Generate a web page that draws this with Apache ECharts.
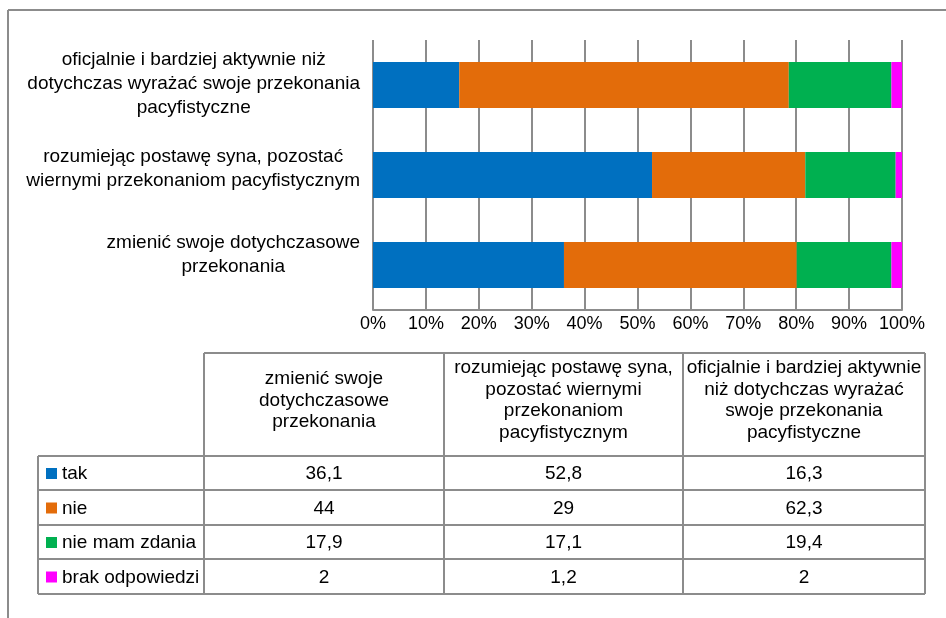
<!DOCTYPE html>
<html>
<head>
<meta charset="utf-8">
<script src="https://cdn.jsdelivr.net/npm/echarts@6/dist/echarts.min.js"></script>
<style>
  html, body { margin: 0; padding: 0; background: #ffffff; }
  #chart { width: 946px; height: 618px; }
</style>
</head>
<body>
<div id="chart"></div>
<script>
// Answer options (bottom to top on the category axis, left to right in the table)
const categories = [
  'zmienić swoje dotychczasowe\nprzekonania',
  'rozumiejąc postawę syna, pozostać\nwiernymi przekonaniom pacyfistycznym',
  'oficjalnie i bardziej aktywnie niż\ndotychczas wyrażać swoje przekonania\npacyfistyczne'
];
const tableHeaders = [
  'zmienić swoje\ndotychczasowe\nprzekonania',
  'rozumiejąc postawę syna,\npozostać wiernymi\nprzekonaniom\npacyfistycznym',
  'oficjalnie i bardziej aktywnie\nniż dotychczas wyrażać\nswoje przekonania\npacyfistyczne'
];
const seriesNames = ['tak', 'nie', 'nie mam zdania', 'brak odpowiedzi'];
const tak = [36.1, 52.8, 16.3];
const nie = [44, 29, 62.3];
const nieMamZdania = [17.9, 17.1, 19.4];
const brakOdpowiedzi = [2, 1.2, 2];

const values = [tak, nie, nieMamZdania, brakOdpowiedzi];
const colors = ['#0070C0', '#E36C0A', '#00B050', '#FF00FF'];
const FONT = '"Liberation Sans", Arial, sans-serif';
const AXIS_FONT_SIZE = 18;
const TEXT_FONT_SIZE = 19;
const LINE_COLOR = '#8c8c8c';

// 100% stacked: each bar is normalised by its own total
const totals = categories.map((_, i) => values.reduce((s, arr) => s + arr[i], 0));

const chart = echarts.init(document.getElementById('chart'), null, { renderer: 'canvas' });

const series = seriesNames.map((name, k) => ({
  name: name,
  type: 'bar',
  stack: 'total',
  barWidth: 46,
  itemStyle: {
    color: colors[k],
    borderColor: colors[k],
    borderWidth: k === 3 ? 3 : 0
  },
  emphasis: { disabled: true },
  data: values[k].map((v, i) => v / totals[i] * 100)
}));

chart.setOption({
  animation: false,
  backgroundColor: '#ffffff',
  grid: { left: 373, right: 44, top: 40, bottom: 308, containLabel: false },
  xAxis: {
    type: 'value',
    min: 0,
    max: 100,
    interval: 10,
    axisLine: { show: true, lineStyle: { color: LINE_COLOR, width: 2 } },
    axisTick: { show: false },
    splitLine: { show: true, lineStyle: { color: LINE_COLOR, width: 2 } },
    axisLabel: {
      formatter: '{value}%',
      color: '#000000',
      fontFamily: FONT,
      fontSize: AXIS_FONT_SIZE,
      margin: 5
    }
  },
  yAxis: {
    type: 'category',
    data: categories,
    axisLine: { show: false },
    axisTick: { show: false },
    axisLabel: { show: false }
  },
  series: series
});

// ---- category labels: lines centred inside a right-aligned block ----
const measureCtx = document.createElement('canvas').getContext('2d');
measureCtx.font = TEXT_FONT_SIZE + 'px ' + FONT;
const labelRight = 360;
const graphics = [];

// labels sit slightly closer together than the bars, around the plot's middle
const plotMid = chart.convertToPixel({ yAxisIndex: 0 }, 1);
categories.forEach((label, i) => {
  const lines = label.split('\n');
  const w = Math.max.apply(null, lines.map(l => measureCtx.measureText(l).width));
  const cy = chart.convertToPixel({ yAxisIndex: 0 }, i);
  graphics.push({
    type: 'text',
    x: labelRight - w / 2,
    y: plotMid + (cy - plotMid) * 0.95 - 6,
    style: {
      text: label,
      fill: '#000000',
      fontFamily: FONT,
      fontSize: TEXT_FONT_SIZE,
      lineHeight: 24,
      align: 'center',
      verticalAlign: 'middle'
    }
  });
});

// ---- outer frame ----
function line(x1, y1, x2, y2, w) {
  graphics.push({
    type: 'line',
    shape: { x1: x1, y1: y1, x2: x2, y2: y2 },
    style: { stroke: LINE_COLOR, lineWidth: w || 2 }
  });
}
line(8, 10, 946, 10);
line(8, 10, 8, 618);

// ---- data table ----
const tableLeft = 38;
const colEdges = [204, 444, 683, 925];
const headerTop = 353;
const rowEdges = [456, 490, 525, 559, 594];

line(colEdges[0], headerTop, colEdges[3], headerTop);
rowEdges.forEach(y => line(tableLeft, y, colEdges[3], y));
line(tableLeft, rowEdges[0], tableLeft, rowEdges[rowEdges.length - 1]);
colEdges.forEach(x => line(x, headerTop, x, rowEdges[rowEdges.length - 1]));

tableHeaders.forEach((h, c) => {
  graphics.push({
    type: 'text',
    x: (colEdges[c] + colEdges[c + 1]) / 2,
    y: (headerTop + rowEdges[0]) / 2 - 4,
    style: {
      text: h,
      fill: '#000000',
      fontFamily: FONT,
      fontSize: TEXT_FONT_SIZE,
      lineHeight: 21.5,
      align: 'center',
      verticalAlign: 'middle'
    }
  });
});

seriesNames.forEach((name, r) => {
  const cy = (rowEdges[r] + rowEdges[r + 1]) / 2 + 1;
  graphics.push({
    type: 'rect',
    shape: { x: 46, y: cy - 6, width: 11, height: 11 },
    style: { fill: colors[r] }
  });
  graphics.push({
    type: 'text',
    x: 62,
    y: cy,
    style: {
      text: name,
      fill: '#000000',
      fontFamily: FONT,
      fontSize: TEXT_FONT_SIZE,
      align: 'left',
      verticalAlign: 'middle'
    }
  });
  values[r].forEach((v, c) => {
    graphics.push({
      type: 'text',
      x: (colEdges[c] + colEdges[c + 1]) / 2,
      y: cy,
      style: {
        text: String(v).replace('.', ','),
        fill: '#000000',
        fontFamily: FONT,
        fontSize: TEXT_FONT_SIZE,
        align: 'center',
        verticalAlign: 'middle'
      }
    });
  });
});

chart.setOption({ graphic: { elements: graphics } });
</script>
</body>
</html>
